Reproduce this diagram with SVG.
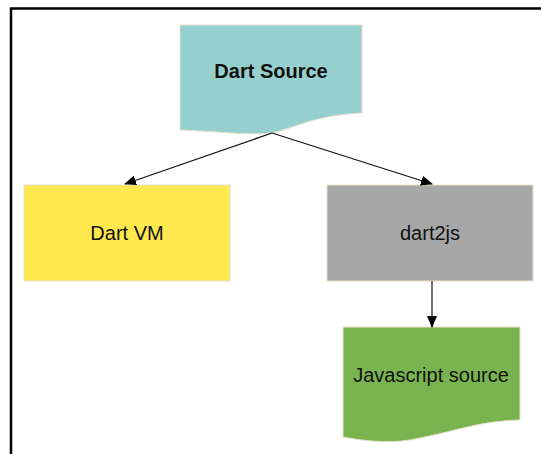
<svg xmlns="http://www.w3.org/2000/svg" width="541" height="454" viewBox="0 0 541 454">
<style>
.lbl{font-family:"Liberation Sans",Arial,sans-serif;font-size:20px;fill:#111;text-anchor:middle}
.b{font-weight:bold}
.edge{stroke:#111;stroke-width:1.2;fill:none;marker-end:url(#ah)}
.shape{stroke:#eadfcc;stroke-width:1}
</style>
<defs>
<marker id="ah" markerWidth="12" markerHeight="10" refX="11" refY="5" orient="auto" markerUnits="userSpaceOnUse">
<path d="M0,0 L12,5 L0,10 z" fill="#000"/>
</marker>
</defs>
<rect width="541" height="454" fill="#fff"/>
<path d="M11,454 V8.5 H541" fill="none" stroke="#000" stroke-width="2.5"/>
<g id="dart-source">
<path class="shape" d="M180,25 H362 V113 C320,115 300,125 280,131 C260,137 230,132 180,130 Z" fill="#96d0ce"/>
<text class="lbl b" x="271" y="78">Dart Source</text>
</g>
<g id="dart-vm">
<rect class="shape" x="24" y="185" width="206" height="96" fill="#fde84e"/>
<text class="lbl" x="127" y="240">Dart VM</text>
</g>
<g id="dart2js">
<rect class="shape" x="327" y="185" width="206" height="96" fill="#a7a7a7"/>
<text class="lbl" x="430" y="240">dart2js</text>
</g>
<g id="javascript-source">
<path class="shape" d="M343,327 H520 V420 C480,421 460,430 420,438 C395,444 370,442 343,437 Z" fill="#79b450"/>
<text class="lbl" x="431" y="382">Javascript source</text>
</g>
<g id="connectors">
<path class="edge" d="M272,133 L125,184"/>
<path class="edge" d="M272,133 L432,184"/>
<path class="edge" d="M432,281 L432,327"/>
</g>
</svg>
